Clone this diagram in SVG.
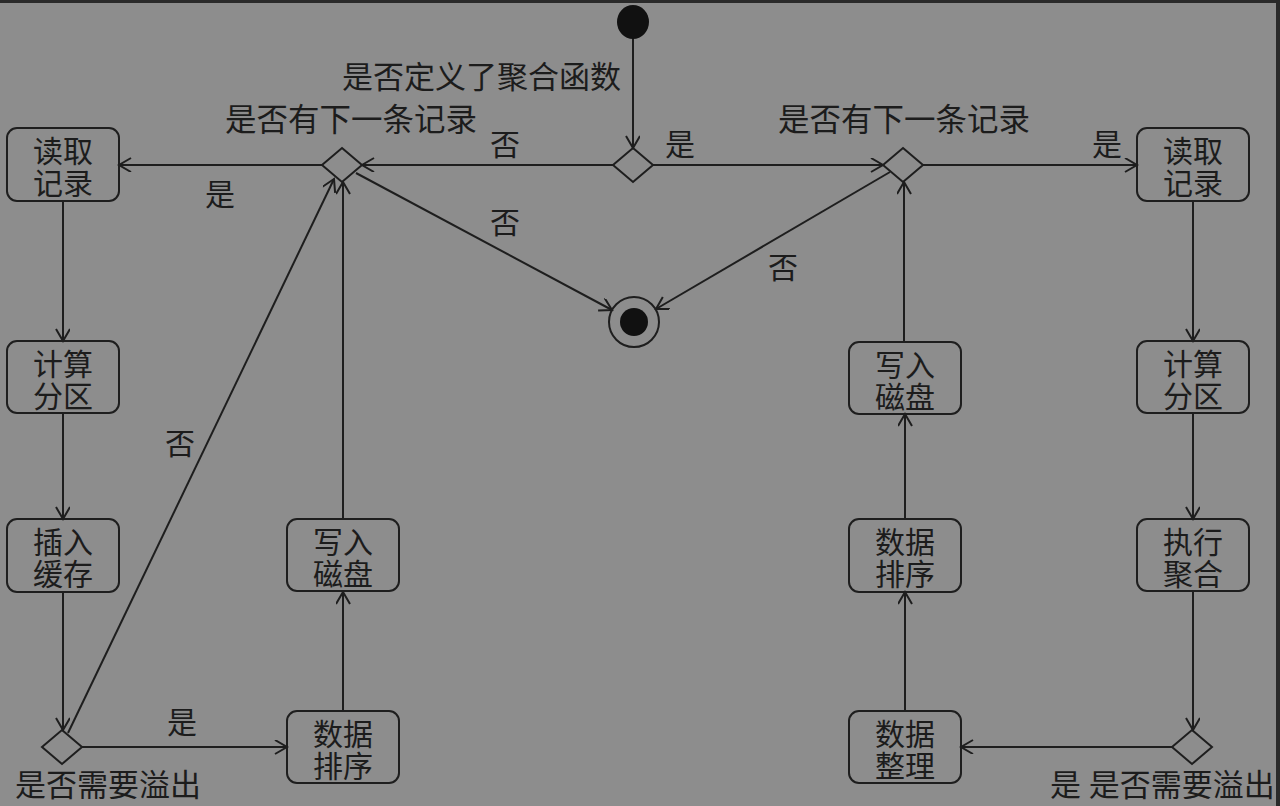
<svg xmlns="http://www.w3.org/2000/svg" width="1280" height="806" viewBox="0 0 1280 806">
<defs>
<style>
.bg{fill:#8d8d8d}
.box{fill:none;stroke:#1e1e1e;stroke-width:2}
.dia{fill:none;stroke:#1e1e1e;stroke-width:2}
.ln{fill:none;stroke:#1e1e1e;stroke-width:2}
.t{font-family:"Liberation Serif","Noto Sans CJK SC",serif;font-size:30px;fill:#1c1c1c}
.l{font-size:31px}
.c{text-anchor:middle}
</style>
<marker id="arr" markerUnits="userSpaceOnUse" markerWidth="16" markerHeight="16" refX="13" refY="7" orient="auto">
<path d="M1,0 L13,7 L1,14" fill="none" stroke="#1e1e1e" stroke-width="2"/>
</marker>
</defs>
<rect class="bg" x="0" y="0" width="1280" height="806"/>
<rect x="0" y="0" width="1280" height="3" fill="#2a2a2a"/>
<rect x="1276" y="0" width="4" height="806" fill="#2a2a2a"/>

<g id="connectors">
<line class="ln" x1="633" y1="38" x2="633" y2="148" marker-end="url(#arr)"/>
<line class="ln" x1="613" y1="165" x2="362" y2="165" marker-end="url(#arr)"/>
<line class="ln" x1="653" y1="165" x2="883" y2="165" marker-end="url(#arr)"/>
<line class="ln" x1="923" y1="165" x2="1137" y2="165" marker-end="url(#arr)"/>
<line class="ln" x1="322" y1="165" x2="119" y2="165" marker-end="url(#arr)"/>
<line class="ln" x1="356" y1="173" x2="612" y2="310" marker-end="url(#arr)"/>
<line class="ln" x1="890" y1="172" x2="656" y2="309" marker-end="url(#arr)"/>
<line class="ln" x1="63" y1="201" x2="63" y2="341" marker-end="url(#arr)"/>
<line class="ln" x1="63" y1="413" x2="63" y2="519" marker-end="url(#arr)"/>
<line class="ln" x1="63" y1="592" x2="63" y2="730" marker-end="url(#arr)"/>
<line class="ln" x1="82" y1="747" x2="287" y2="747" marker-end="url(#arr)"/>
<line class="ln" x1="68" y1="733" x2="334" y2="179" marker-end="url(#arr)"/>
<line class="ln" x1="343" y1="711" x2="343" y2="592" marker-end="url(#arr)"/>
<line class="ln" x1="343" y1="519" x2="343" y2="182" marker-end="url(#arr)"/>
<line class="ln" x1="1193" y1="201" x2="1193" y2="341" marker-end="url(#arr)"/>
<line class="ln" x1="1193" y1="413" x2="1193" y2="519" marker-end="url(#arr)"/>
<line class="ln" x1="1193" y1="591" x2="1193" y2="730" marker-end="url(#arr)"/>
<line class="ln" x1="1172" y1="747" x2="961" y2="747" marker-end="url(#arr)"/>
<line class="ln" x1="905" y1="711" x2="905" y2="592" marker-end="url(#arr)"/>
<line class="ln" x1="905" y1="519" x2="905" y2="414" marker-end="url(#arr)"/>
<line class="ln" x1="904" y1="342" x2="904" y2="182" marker-end="url(#arr)"/>
</g>

<g id="start"><ellipse cx="633" cy="22" rx="16" ry="17" fill="#111"/></g>
<g id="end"><circle cx="634" cy="322" r="25" fill="none" stroke="#1e1e1e" stroke-width="2"/><circle cx="634" cy="322" r="14" fill="#111"/></g>

<g id="d-agg"><polygon class="dia" points="633,148 653,165 633,182 613,165"/>
<text class="t l" x="342" y="88">是否定义了聚合函数</text></g>
<g id="d-next-left"><polygon class="dia" points="342,148 362,165 342,182 322,165"/>
<text class="t" x="225" y="131" style="font-size:31.5px">是否有下一条记录</text></g>
<g id="d-next-right"><polygon class="dia" points="903,148 923,165 903,182 883,165"/>
<text class="t" x="778" y="131" style="font-size:31.5px">是否有下一条记录</text></g>
<g id="d-spill-left"><polygon class="dia" points="62,730 82,747 62,764 42,747"/>
<text class="t l" x="15" y="796">是否需要溢出</text></g>
<g id="d-spill-right"><polygon class="dia" points="1192,730 1212,747 1192,764 1172,747"/>
<text class="t l" x="1050" y="796">是 是否需要溢出</text></g>

<g id="n-read-l"><rect class="box" x="7" y="128" width="112" height="73" rx="10"/>
<text class="t c" x="63" y="162">读取</text><text class="t c" x="63" y="194">记录</text></g>
<g id="n-part-l"><rect class="box" x="7" y="341" width="112" height="72" rx="10"/>
<text class="t c" x="63" y="375">计算</text><text class="t c" x="63" y="407">分区</text></g>
<g id="n-buf-l"><rect class="box" x="7" y="519" width="112" height="73" rx="10"/>
<text class="t c" x="63" y="553">插入</text><text class="t c" x="63" y="585">缓存</text></g>
<g id="n-write-l"><rect class="box" x="287" y="519" width="112" height="72" rx="10"/>
<text class="t c" x="343" y="553">写入</text><text class="t c" x="343" y="585">磁盘</text></g>
<g id="n-sort-l"><rect class="box" x="287" y="711" width="112" height="72" rx="10"/>
<text class="t c" x="343" y="745">数据</text><text class="t c" x="343" y="777">排序</text></g>

<g id="n-read-r"><rect class="box" x="1137" y="128" width="112" height="73" rx="10"/>
<text class="t c" x="1193" y="162">读取</text><text class="t c" x="1193" y="194">记录</text></g>
<g id="n-part-r"><rect class="box" x="1137" y="341" width="112" height="72" rx="10"/>
<text class="t c" x="1193" y="375">计算</text><text class="t c" x="1193" y="407">分区</text></g>
<g id="n-agg-r"><rect class="box" x="1137" y="519" width="112" height="72" rx="10"/>
<text class="t c" x="1193" y="553">执行</text><text class="t c" x="1193" y="585">聚合</text></g>
<g id="n-write-r"><rect class="box" x="849" y="342" width="112" height="72" rx="10"/>
<text class="t c" x="905" y="376">写入</text><text class="t c" x="905" y="408">磁盘</text></g>
<g id="n-sort-r"><rect class="box" x="849" y="519" width="112" height="73" rx="10"/>
<text class="t c" x="905" y="553">数据</text><text class="t c" x="905" y="585">排序</text></g>
<g id="n-tidy-r"><rect class="box" x="849" y="711" width="112" height="72" rx="10"/>
<text class="t c" x="905" y="745">数据</text><text class="t c" x="905" y="777">整理</text></g>

<g id="labels">
<text class="t c" x="505" y="155">否</text>
<text class="t c" x="680" y="155">是</text>
<text class="t c" x="1107" y="155">是</text>
<text class="t c" x="220" y="205">是</text>
<text class="t c" x="505" y="233">否</text>
<text class="t c" x="783" y="278">否</text>
<text class="t c" x="180" y="454">否</text>
<text class="t c" x="182" y="733">是</text>
</g>
</svg>
